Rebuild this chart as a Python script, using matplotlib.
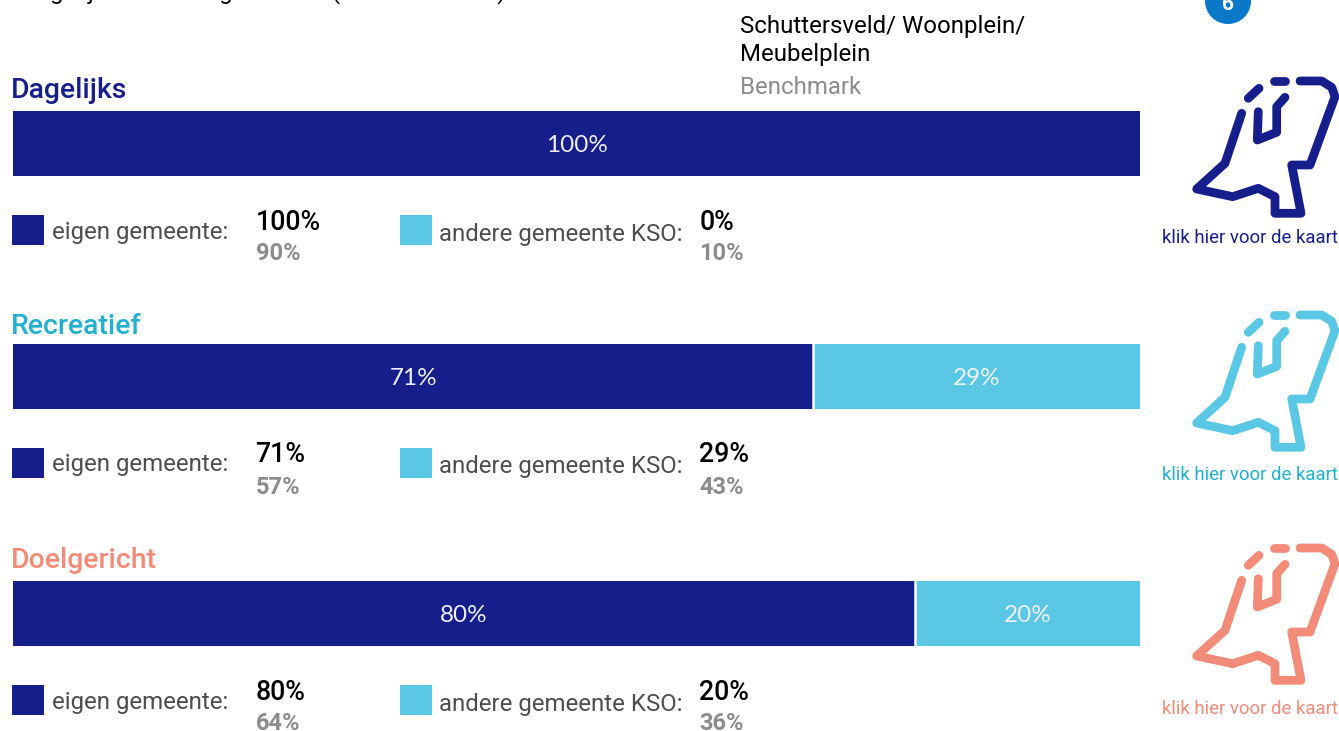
import matplotlib
matplotlib.use("Agg")
import matplotlib.pyplot as plt
from matplotlib.patches import Circle, Rectangle

W, H = 1339, 731

# data
doelen = ["Dagelijks", "Recreatief", "Doelgericht"]
eigen = [100, 71, 80]
andere = [0, 29, 20]
eigen_bench = [90, 57, 64]
andere_bench = [10, 43, 36]
kleuren = ["#161e8c", "#22b0cf", "#f28b78"]
icoon_kleuren = ["#161e8c", "#5ac8e4", "#f28b78"]
link_kleuren = ["#161e8c", "#22b0cf", "#f28b78"]

DONKER, LICHT = "#161e8c", "#5ac8e4"
GRIJS, TEKST = "#8c8c8c", "#4d4d4d"

# posities in pixels, per blok
BALK_Y = [111, 344, 581]
BALK_H = 65
BALK_L, BALK_R = 13, 1140
KOP_Y = [91, 326, 560]
ICOON_Y = [77, 311, 544]
LINK_Y = [238, 475, 709]

# contour van het icoon, relatief t.o.v. de linkerbovenhoek
ICOON = [
    [(150, 4), (171.7, 4), (181.7, 10.3), (185, 19.7), (160, 88), (141.7, 88),
     (151, 136.3), (125, 136.3), (125, 119.7), (108.3, 111.3), (82.7, 119.7),
     (46.7, 112), (75, 86.3), (91.7, 36.3)],
    [(108.3, 34.7), (107.3, 63), (126.7, 55.3), (126.7, 29.7), (135, 20.3)],
    [(98.3, 21.3), (109, 11.3)],
    [(124, 4), (135, 4)],
]

plt.rcParams["font.family"] = ["Roboto", "DejaVu Sans"]
fig = plt.figure(figsize=(W / 100, H / 100), dpi=100)
bg = fig.add_axes([0, 0, 1, 1])
bg.set_xlim(0, W)
bg.set_ylim(H, 0)
bg.axis("off")


def vak(y, hoogte):
    return fig.add_axes([BALK_L / W, 1 - (y + hoogte) / H,
                         (BALK_R - BALK_L) / W, hoogte / H])


# kop (bovenste regel valt grotendeels buiten beeld)
bg.text(14, -8, "Vergelijk herkomst gemeente (Benchmark NL)", fontsize=17.3,
        color="black", va="center")
bg.text(740, 27, "Schuttersveld/ Woonplein/", fontsize=17.3, color="black", va="center")
bg.text(740, 55, "Meubelplein", fontsize=17.3, color="black", va="center")
bg.text(740, 88, "Benchmark", fontsize=17.3, color=GRIJS, va="center")
bg.add_patch(Circle((1228, 1), 23, color="#0a78c8", lw=0))
bg.text(1228, 4, "6", fontsize=15, color="white", fontweight="bold",
        ha="center", va="center")

for i, naam in enumerate(doelen):
    y0 = BALK_Y[i]
    bg.text(11, KOP_Y[i], naam, fontsize=20.4, color=kleuren[i], va="center",
            fontweight="medium")

    ax = vak(y0, BALK_H)
    ax.barh(0, eigen[i], height=1, color=DONKER, linewidth=0)
    ax.barh(0, andere[i], height=1, left=eigen[i], color=LICHT, linewidth=0)
    if andere[i] > 0:
        ax.axvline(eigen[i], color="white", lw=1.8)
    ax.set_xlim(0, 100)
    ax.set_ylim(-0.5, 0.5)
    ax.axis("off")
    ax.text(eigen[i] / 2, -0.03, f"{eigen[i]}%", color="#eef1fb", fontsize=17.5,
            family="Lato", ha="center", va="center")
    if andere[i] > 0:
        ax.text(eigen[i] + andere[i] / 2, -0.03, f"{andere[i]}%", color="#eef1fb",
                fontsize=17.5, family="Lato", ha="center", va="center")

    # legenda met percentages
    ly = y0 + 119
    bg.add_patch(Rectangle((12, ly - 15), 32, 30, color=DONKER, lw=0))
    bg.text(52, ly + 2, "eigen gemeente:", fontsize=17.3, color=TEKST, va="center")
    bg.text(255.5, ly - 8, f"{eigen[i]}%", fontsize=19.3, color="black",
            fontweight="medium", va="center")
    bg.text(256, ly + 24, f"{eigen_bench[i]}%", fontsize=17, color=GRIJS,
            fontweight="bold", va="center")
    bg.add_patch(Rectangle((400, ly - 15), 32, 30, color=LICHT, lw=0))
    bg.text(439, ly + 4, "andere gemeente KSO:", fontsize=17.3, color=TEKST, va="center")
    bg.text(699.5, ly - 8, f"{andere[i]}%", fontsize=19.3, color="black",
            fontweight="medium", va="center")
    bg.text(699.5, ly + 24, f"{andere_bench[i]}%", fontsize=17, color=GRIJS,
            fontweight="bold", va="center")

    # icoon en link
    for deel in ICOON:
        bg.plot([1150 + p[0] for p in deel], [ICOON_Y[i] + p[1] for p in deel],
                color=icoon_kleuren[i], lw=6.3, solid_capstyle="round",
                solid_joinstyle="round")
    bg.text(1338, LINK_Y[i], "klik hier voor de kaart", fontsize=13.45,
            color=link_kleuren[i], ha="right", va="center")

fig.savefig("out.png", dpi=100)
